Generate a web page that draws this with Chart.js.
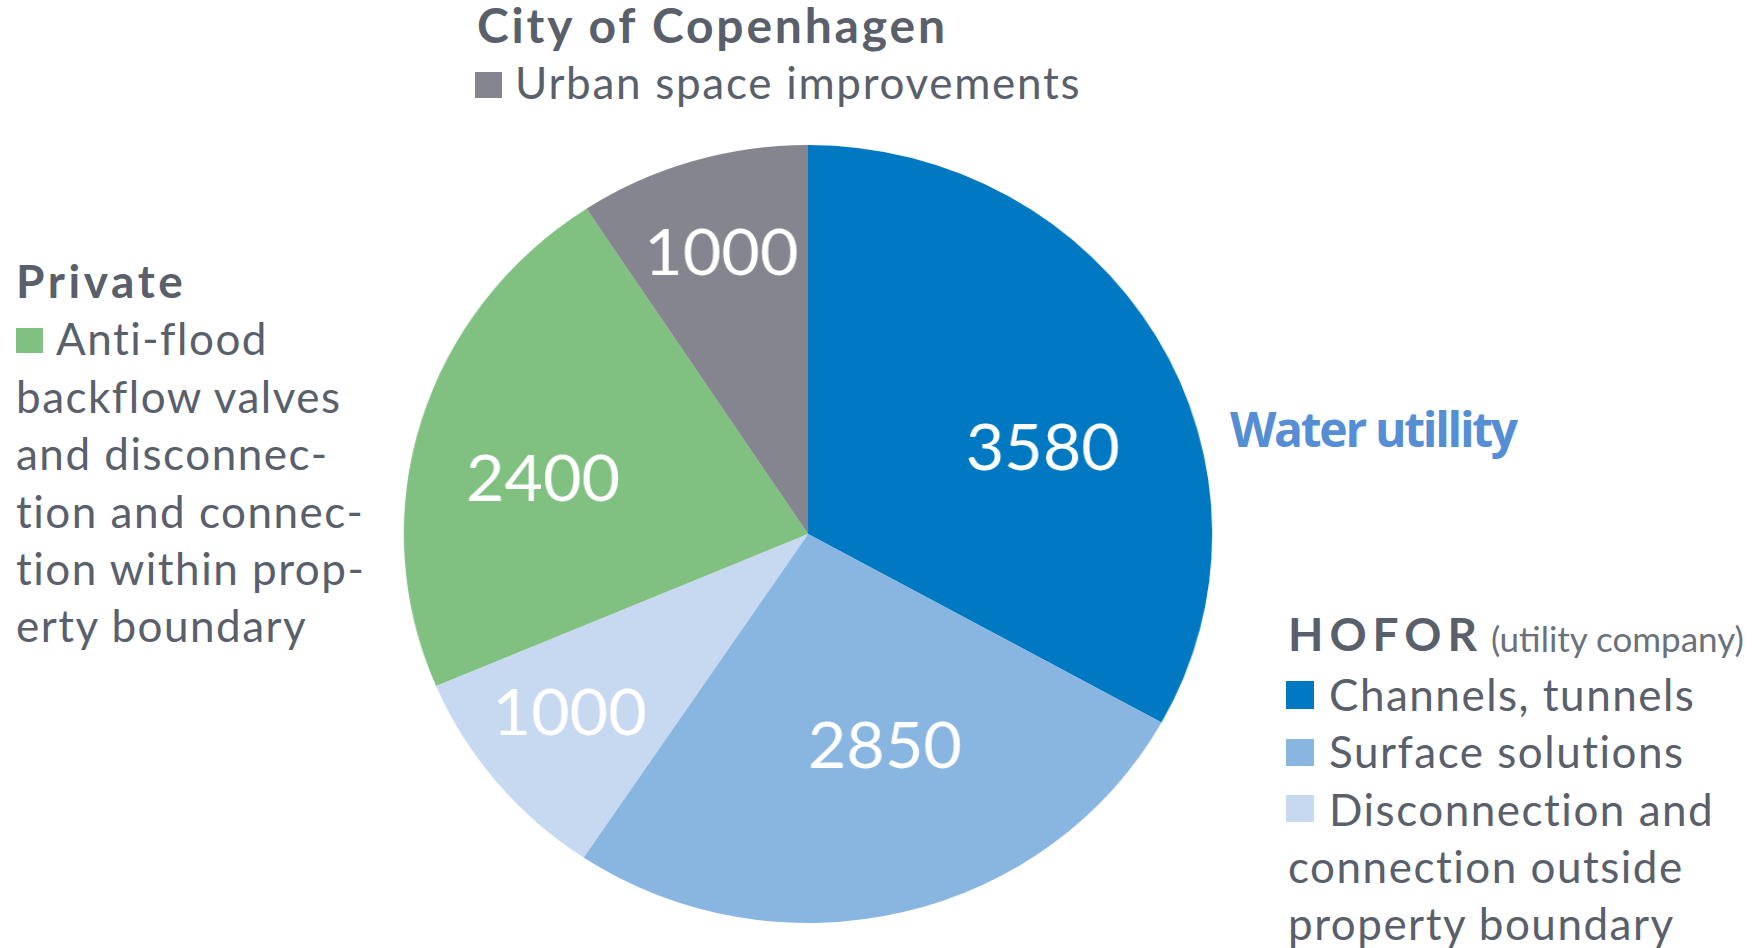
<!DOCTYPE html>
<html>
<head>
<meta charset="utf-8">
<script src="https://cdn.jsdelivr.net/npm/chart.js@4.4.1/dist/chart.umd.min.js"></script>
<style>
  body { margin: 0; background: #fff; width: 1764px; height: 948px; overflow: hidden; position: relative; font-family: Lato, sans-serif; color: #5a606b; }
  .t { position: absolute; white-space: nowrap; line-height: 1; }
  .b { font-weight: 700; }
  .body { font-size: 44px; letter-spacing: 1.5px; }
  .sq { position: absolute; }
  #pieWrap { position: absolute; left: 419px; top: 145px; width: 778px; height: 778px; transform: scaleX(1.039); transform-origin: 50% 50%; }
</style>
</head>
<body>
<div id="pieWrap"><canvas id="pie" width="778" height="778"></canvas></div>

<div class="t b" style="left:477px; top:1px; font-size:48px; letter-spacing:2.8px;">City of Copenhagen</div>
<div class="sq" id="sqUrban" style="left:475px; top:72px; width:27px; height:26px;"></div>
<div class="t body" style="left:515px; top:60px; letter-spacing:1.7px;">Urban space improvements</div>

<div class="t b" style="left:16px; top:258px; font-size:46px; letter-spacing:3.6px;">Private</div>
<div class="sq" id="sqPrivate" style="left:16px; top:328px; width:27px; height:25px;"></div>
<div class="t body" style="left:56px; top:316px;">Anti-flood</div>
<div class="t body" style="left:16px; top:374px;">backflow valves</div>
<div class="t body" style="left:16px; top:431px;">and disconnec-</div>
<div class="t body" style="left:16px; top:489px;">tion and connec-</div>
<div class="t body" style="left:16px; top:546px;">tion within prop-</div>
<div class="t body" style="left:16px; top:603px;">erty boundary</div>

<div class="t b" style="left:1230px; top:405px; font-size:48px; letter-spacing:-2.3px; font-family:'Open Sans', sans-serif; color:#558ed5;">Water utillity</div>

<div class="t b" style="left:1288px; top:611px; font-size:46px; letter-spacing:6px;">HOFOR</div>
<div class="t" style="left:1491px; top:621px; font-size:35px; color:#6b717a;">(utility company)</div>
<div class="sq" id="sqChannels" style="left:1286px; top:681px; width:28px; height:28px;"></div>
<div class="t body" style="left:1329px; top:672px;">Channels, tunnels</div>
<div class="sq" id="sqSurface" style="left:1286px; top:739px; width:28px; height:27px;"></div>
<div class="t body" style="left:1329px; top:729px;">Surface solutions</div>
<div class="sq" id="sqDisconnect" style="left:1286px; top:795px; width:28px; height:27px;"></div>
<div class="t body" style="left:1329px; top:787px;">Disconnection and</div>
<div class="t body" style="left:1288px; top:844px;">connection outside</div>
<div class="t body" style="left:1288px; top:901px;">property boundary</div>

<script>
// slices, clockwise from 12 o'clock
const categories = ['Channels, tunnels', 'Surface solutions', 'Disconnection and connection outside property boundary', 'Anti-flood backflow valves and disconnection and connection within property boundary', 'Urban space improvements'];
const values = [3580, 2850, 1000, 2400, 1000];
const colors = ['#0078c2', '#89b5e1', '#c6d9f1', '#80c080', '#85858f'];

// label placement tweaks (fraction of radius, degrees turned from the slice middle)
const labelRadius = [0.62, 0.58, 0.75, 0.67, 0.75];
const labelTurn = [10, -5.5, 1.5, -5, 0];

['sqChannels', 'sqSurface', 'sqDisconnect', 'sqPrivate', 'sqUrban'].forEach((id, i) => {
  document.getElementById(id).style.background = colors[i];
});

const sliceLabels = {
  id: 'sliceLabels',
  afterDatasetsDraw(chart) {
    const ctx = chart.ctx;
    const meta = chart.getDatasetMeta(0);
    ctx.save();
    ctx.fillStyle = '#ffffff';
    ctx.font = '400 64px Lato';
    ctx.textAlign = 'center';
    ctx.textBaseline = 'middle';
    meta.data.forEach((arc, i) => {
      const p = arc.getProps(['x', 'y', 'startAngle', 'endAngle', 'outerRadius'], true);
      const a = (p.startAngle + p.endAngle) / 2 + labelTurn[i] * Math.PI / 180;
      const r = p.outerRadius * labelRadius[i];
      ctx.fillText(String(values[i]), p.x + r * Math.cos(a), p.y + r * Math.sin(a));
    });
    ctx.restore();
  }
};

new Chart(document.getElementById('pie'), {
  type: 'pie',
  data: {
    labels: categories,
    datasets: [{ data: values, backgroundColor: colors, borderWidth: 0 }]
  },
  options: {
    responsive: false,
    animation: false,
    layout: { padding: 0 },
    plugins: { legend: { display: false }, tooltip: { enabled: false } }
  },
  plugins: [sliceLabels]
});
</script>
</body>
</html>
